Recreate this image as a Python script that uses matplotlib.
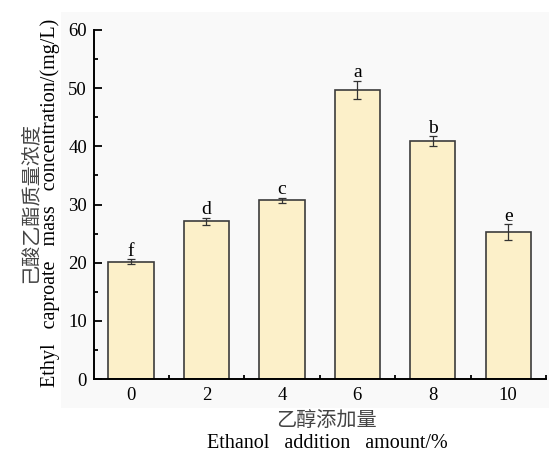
import matplotlib.pyplot as plt
from matplotlib.patches import Rectangle
from matplotlib.ticker import MultipleLocator

plt.rcParams['font.family'] = ['Liberation Serif', 'Noto Sans CJK SC']

ethanol = [0, 2, 4, 6, 8, 10]
conc = [20.2, 27.1, 30.7, 49.7, 40.9, 25.3]
err = [0.4, 0.6, 0.5, 1.55, 0.85, 1.35]
letters = ['f', 'd', 'c', 'a', 'b', 'e']

fig = plt.figure(figsize=(5.49, 4.54), dpi=100)
fig.patches.append(Rectangle((61 / 549, 1 - 408 / 454), 488 / 549, 396 / 454,
                             transform=fig.transFigure, facecolor='#f9f9f9',
                             edgecolor='none', zorder=-1))
ax = fig.add_axes([94 / 549, 1 - 379 / 454, 452 / 549, 349 / 454])
ax.patch.set_alpha(0)

ax.bar(ethanol, conc, width=1.2, color='#fcf0c9', edgecolor='#3c3c3c',
       linewidth=1.2, zorder=2)
ax.errorbar(ethanol, conc, yerr=err, fmt='none', ecolor='#333333',
            elinewidth=0.9, capsize=3, capthick=0.9, zorder=3)
for x, y, e, s in zip(ethanol, conc, err, letters):
    ax.text(x, y + e - 0.1, s, ha='center', va='bottom', fontsize=14)

ax.set_xlim(-0.98, 11)
ax.set_ylim(0, 60)
ax.set_xticks(ethanol)
ax.set_xticks([1, 3, 5, 7, 9, 11], minor=True)
ax.yaxis.set_major_locator(MultipleLocator(10))
ax.yaxis.set_minor_locator(MultipleLocator(5))
ax.tick_params(which='both', direction='in', width=1.3, labelsize=13.5)
ax.tick_params(which='major', length=6)
ax.tick_params(which='minor', length=3)
ax.tick_params(axis='x', pad=6)
ax.tick_params(axis='y', pad=5)
for side in ['top', 'right']:
    ax.spines[side].set_visible(False)
for side in ['left', 'bottom']:
    ax.spines[side].set_linewidth(1.4)

fig.text(30 / 549, 0.555, '己酸乙酯质量浓度', rotation=90, ha='center',
         va='center', fontsize=14.5, family=['Noto Sans CJK SC'], color='#444444')
fig.text(50 / 549, 0.553, 'Ethyl   caproate   mass   concentration/(mg/L)',
         rotation=90, ha='center', va='center', fontsize=14.5)
fig.text(326 / 549, 1 - 420 / 454, '乙醇添加量', ha='center', va='center',
         fontsize=14.5, family=['Noto Sans CJK SC'], color='#444444')
fig.text(327 / 549, 1 - 443 / 454, 'Ethanol   addition   amount/%', ha='center',
         va='center', fontsize=14.5)

fig.savefig('out.png', dpi=100, facecolor='white')
